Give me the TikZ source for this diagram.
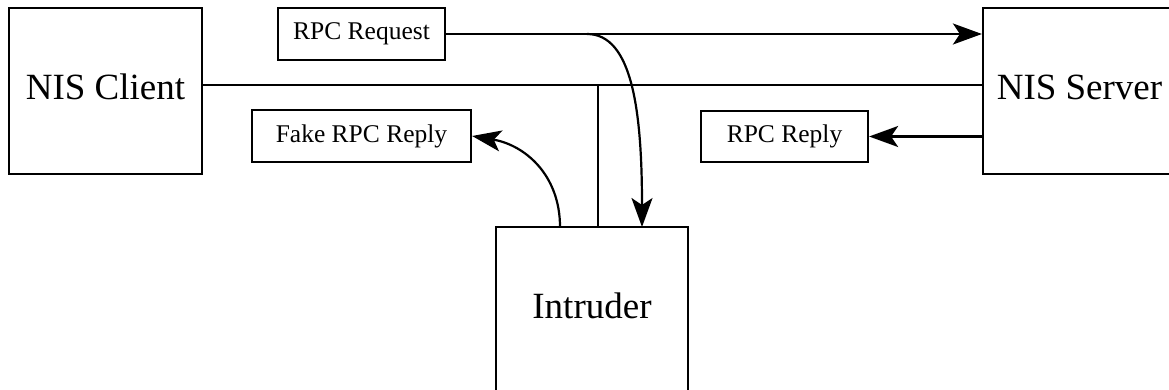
\documentclass[tikz,border=0pt]{standalone}
\usepackage{fontspec}
\setmainfont{Liberation Serif}
\usetikzlibrary{arrows.meta,calc}
\begin{document}
\begin{tikzpicture}[x=1pt,y=1pt,line width=2.2pt,
  bigbox/.style={draw,rectangle,inner sep=0pt,font=\fontsize{37}{44}\selectfont},
  smallbox/.style={draw,rectangle,inner sep=0pt,font=\fontsize{25.5}{30}\selectfont},
  arr/.style={-{Stealth[length=29pt,width=21pt,inset=7pt]}}]
\useasboundingbox (0,0) rectangle (1169,-390);
\begin{scope}
\clip (0,0) rectangle (1169,-390);
\node[bigbox,minimum width=193pt,text height=92pt,text depth=74pt] (client) at (105.5,-91) {NIS Client};
\node[bigbox,minimum width=193pt,text height=92pt,text depth=74pt] (server) at (1079.5,-91) {NIS Server};
\node[bigbox,minimum width=192pt,text height=91pt,text depth=100pt] (intruder) at (592,-322.5) {Intruder};
\node[smallbox,minimum width=167pt,minimum height=52pt] (req) at (361.5,-34) {RPC Request};
\node[smallbox,minimum width=219pt,minimum height=52pt] (fake) at (361.5,-136) {Fake RPC Reply};
\node[smallbox,minimum width=167pt,minimum height=51pt] (reply) at (784.5,-136.5) {RPC Reply};
\coordinate (bus) at (598,-85);
\coordinate (split) at (587,-34);
\coordinate (fakestart) at (560,-227);
\coordinate (reqend) at (642,-227);
\draw (client.east |- bus) -- (server.west |- bus);
\draw (bus) -- (intruder.north -| bus);
\draw[arr] (req.east) -- (server.west |- req.east);
\draw[arr] (split) .. controls (632,-34) and (642,-110) .. (reqend);
\draw[arr] (fakestart) .. controls (560,-175) and (525,-145) .. (fake.east);
\draw[arr] (server.west |- reply.east) -- (reply.east);
\end{scope}
\end{tikzpicture}
\end{document}
